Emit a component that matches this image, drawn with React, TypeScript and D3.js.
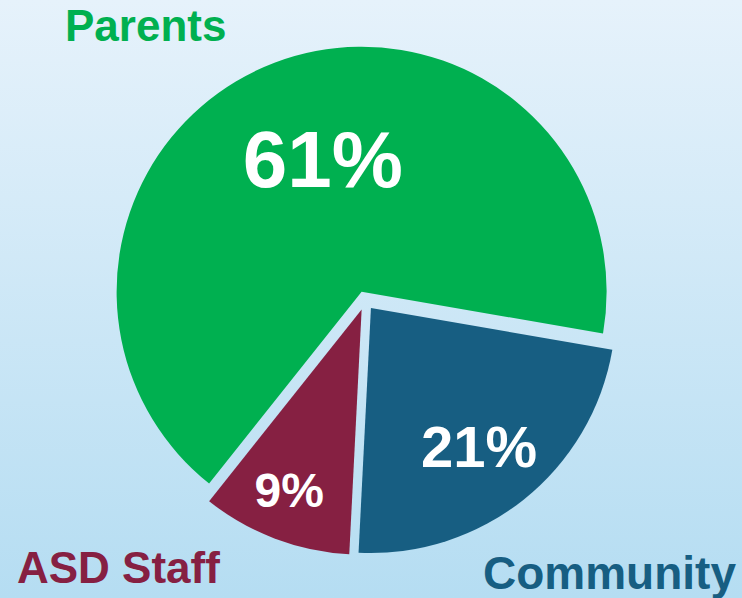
import React from 'react';
import * as d3 from 'd3';

// chart values
const groups = ['Parents', 'Community', 'ASD Staff'];
const shares = [61, 21, 9];
const percentLabels = ['61%', '21%', '9%'];

const colors = ['#00b050', '#175e82', '#862042'];

const W = 742;
const H = 598;
const cx = 365;
const cy = 300.6;
const radius = 245;
const explode = 9.5;
const startDeg = -141.5;

// where the % text sits, as share of radius, plus a small nudge, and its font size
const pctRadius = [0.56, 0.72, 0.79];
const pctNudge = [
  [10, -5],
  [-2, 0],
  [-4, -1],
];
const pctSize = [80, 58, 48];

// category labels
const nameLabels = [
  { x: 65, y: 41, size: 44 },
  { x: 483, y: 589, size: 46 },
  { x: 17, y: 583, size: 44 },
];

export default function App() {
  const rows = groups.map((g, i) => ({ name: g, value: shares[i], i }));

  const pie = d3
    .pie<any>()
    .sort(null)
    .value((d) => d.value)
    .startAngle((startDeg * Math.PI) / 180)
    .endAngle((startDeg * Math.PI) / 180 + 2 * Math.PI);

  const arc = d3.arc<any>().innerRadius(0).outerRadius(radius);
  const slices = pie(rows);

  return (
    <div style={{ position: 'fixed', left: 0, top: 0 }}>
      <svg width={W} height={H} style={{ display: 'block' }}>
        <defs>
          <linearGradient id="bg" x1="0" y1="0" x2="0" y2="1">
            <stop offset="0%" stopColor="#e6f2fb" />
            <stop offset="100%" stopColor="#b5ddf2" />
          </linearGradient>
        </defs>
        <rect x={0} y={0} width={W} height={H} fill="url(#bg)" />

        {slices.map((s) => {
          const i = s.data.i;
          const mid = (s.startAngle + s.endAngle) / 2;
          const ox = Math.sin(mid) * explode;
          const oy = -Math.cos(mid) * explode;
          const lr = radius * pctRadius[i];
          const lx = Math.sin(mid) * lr + pctNudge[i][0];
          const ly = -Math.cos(mid) * lr + pctNudge[i][1];
          const fs = pctSize[i];
          return (
            <g key={s.data.name} transform={`translate(${cx + ox},${cy + oy})`}>
              <path d={arc(s) as string} fill={colors[i]} />
              <text
                x={lx}
                y={ly + fs * 0.36}
                textAnchor="middle"
                fontFamily="Arial, 'Liberation Sans', sans-serif"
                fontWeight="bold"
                fontSize={fs}
                fill="#ffffff"
              >
                {percentLabels[i]}
              </text>
            </g>
          );
        })}

        {groups.map((g, i) => (
          <text
            key={g}
            x={nameLabels[i].x}
            y={nameLabels[i].y}
            fontFamily="Arial, 'Liberation Sans', sans-serif"
            fontWeight="bold"
            fontSize={nameLabels[i].size}
            fill={colors[i]}
          >
            {g}
          </text>
        ))}
      </svg>
    </div>
  );
}
